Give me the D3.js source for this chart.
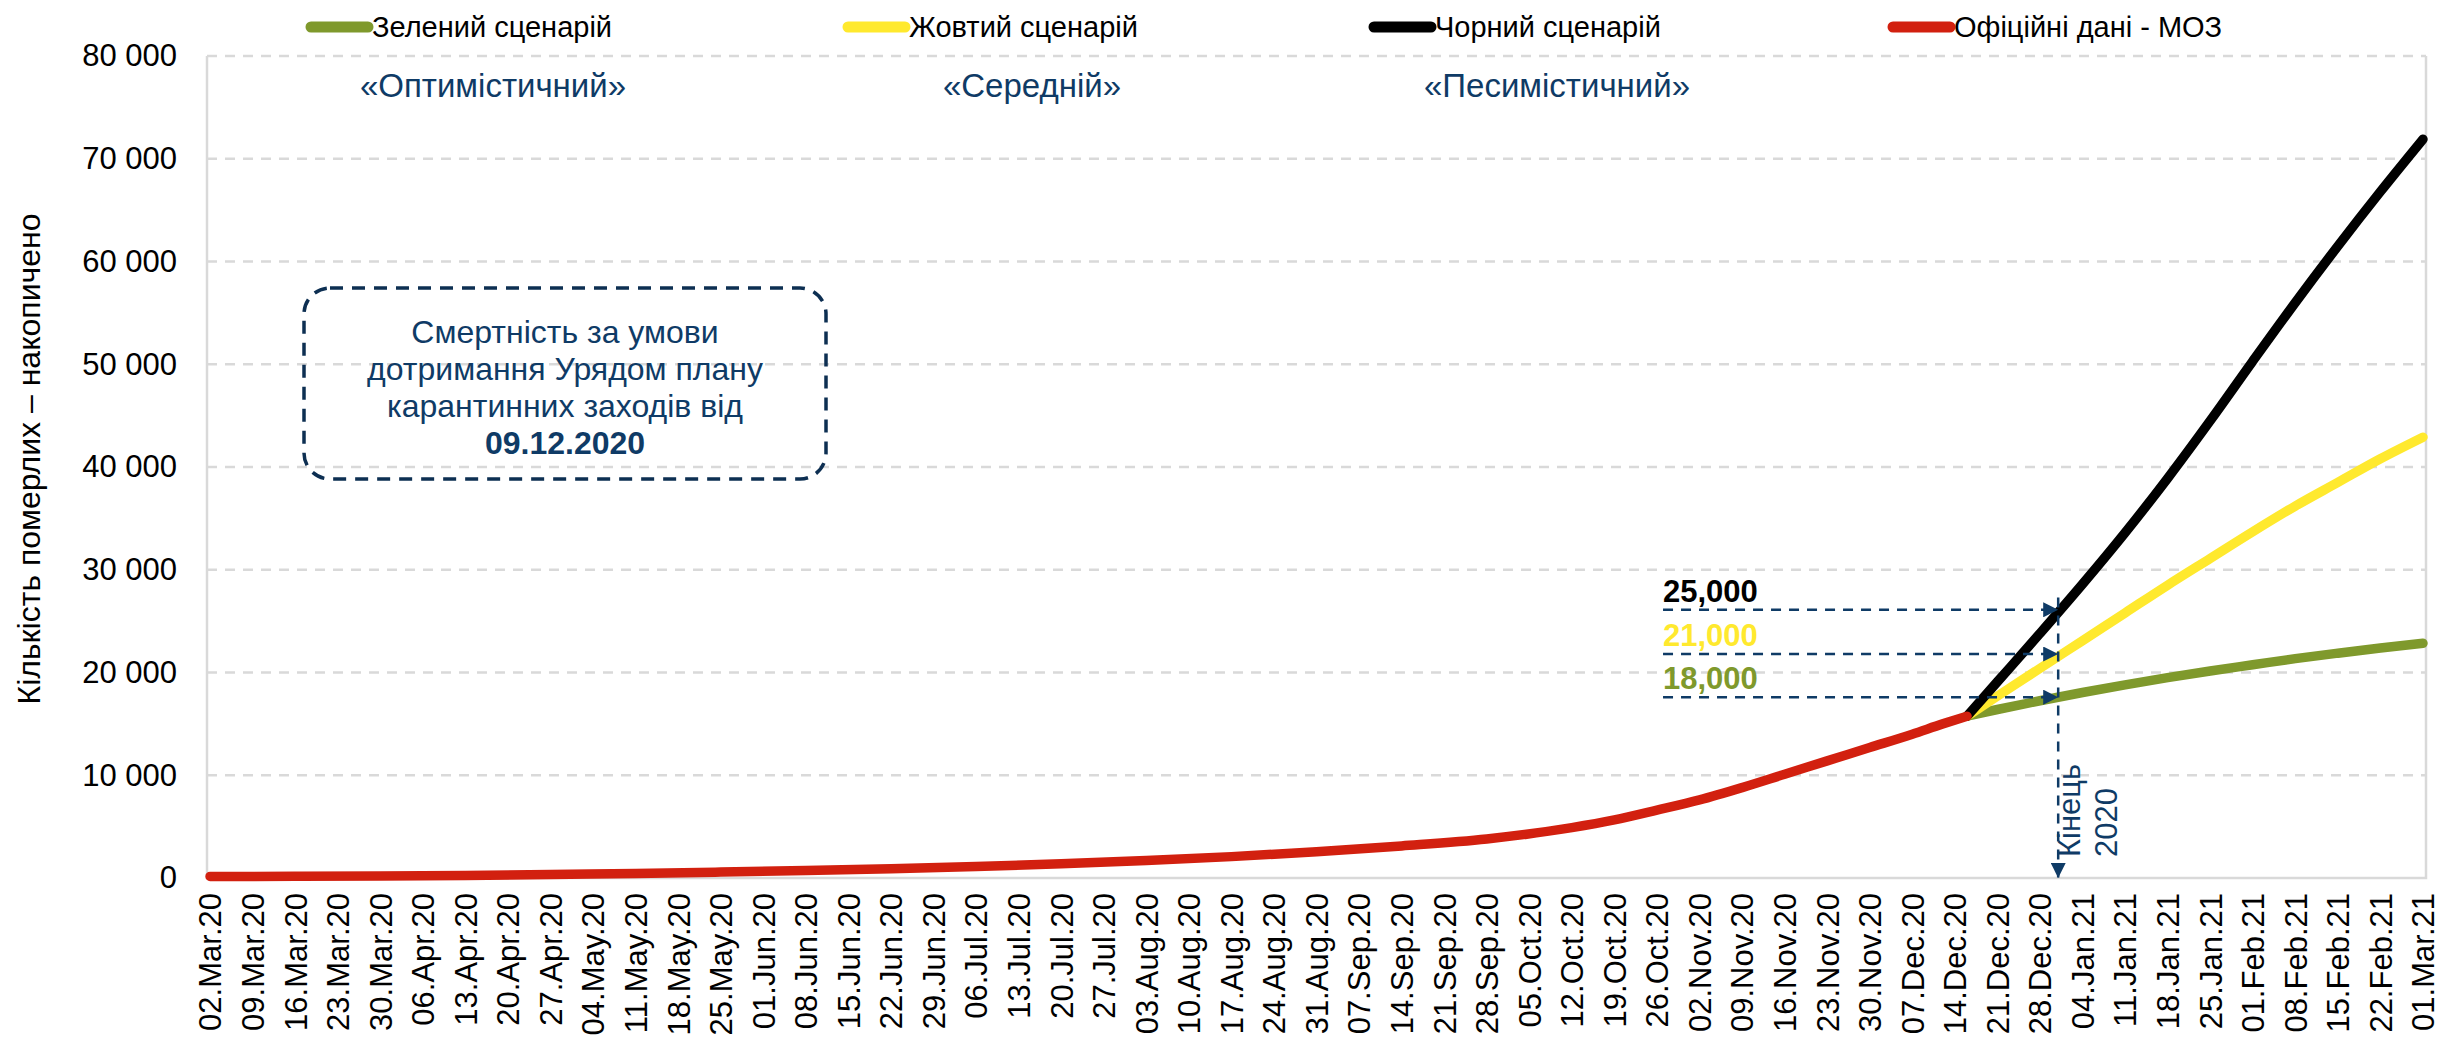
<!DOCTYPE html>
<html>
<head>
<meta charset="utf-8">
<script src="https://cdn.jsdelivr.net/npm/d3@7"></script>
<style>
  body { margin: 0; background: #fff; }
  svg { display: block; }
  text { font-family: "Liberation Sans", Arial, sans-serif; }
</style>
</head>
<body>
<div id="chart"></div>
<script>
// Official data (MOZ), cumulative deaths
const officialDates = ["2020-03-02","2020-03-16","2020-03-30","2020-04-13","2020-04-27","2020-05-11","2020-05-25",
  "2020-06-08","2020-06-22","2020-07-06","2020-07-20","2020-08-03","2020-08-17","2020-08-31","2020-09-14",
  "2020-09-28","2020-10-12","2020-10-19","2020-10-26","2020-11-02","2020-11-09","2020-11-16",
  "2020-11-23","2020-11-30","2020-12-07","2020-12-12","2020-12-16"];
const officialValues = [150,160,190,250,340,450,580,720,900,1120,1380,1700,2080,2550,3120,
  3800,4900,5650,6600,7600,8800,10100,11400,12700,14000,15000,15750];

// Scenario forecasts
const scenarioDates = ["2020-12-16","2020-12-21","2020-12-28","2021-01-04","2021-01-11","2021-01-18",
  "2021-01-25","2021-02-01","2021-02-08","2021-02-15","2021-02-22","2021-03-01"];
const greenValues  = [15750,16400,17250,18050,18800,19500,20150,20750,21350,21880,22380,22850];
const yellowValues = [15750,17700,20400,23100,25800,28500,31100,33700,36200,38500,40800,42900];
const blackValues  = [15750,19100,23800,28600,33600,38900,44500,50300,56000,61500,66800,71900];

const yTicks = [0,10000,20000,30000,40000,50000,60000,70000,80000];
const legendLabels = ["Зелений сценарій","Жовтий сценарій","Чорний сценарій","Офіційні дані - МОЗ"];
const legendColors = ["#7f992c","#ffe92e","#000000","#d2200f"];
const scenarioNames = ["«Оптимістичний»","«Середній»","«Песимістичний»"];

// end of 2020 annotation
const endOf2020 = "2020-12-31";
const endLabels = ["25,000","21,000","18,000"];
const endArrowValues = [26100,21800,17600];
const endLabelColors = ["#000000","#ffe92e","#7f992c"];

const W = 2440, H = 1045;
const plot = {left: 207, right: 2426, top: 56, bottom: 878};
const navy = "#0f3b66";

const parse = d3.timeParse("%Y-%m-%d");

const svg = d3.select("#chart").append("svg")
    .attr("width", W)
    .attr("height", H);

const x = d3.scaleTime()
    .domain([new Date(2020, 2, 1, 12), new Date(2021, 2, 1, 12)])
    .range([plot.left, plot.right]);

const y = d3.scaleLinear()
    .domain([0, 80000])
    .range([plot.bottom, plot.top]);

const fmtY = d3.formatLocale({decimal: ".", thousands: " ", grouping: [3], currency: ["", ""]}).format(",d");

// gridlines
svg.append("g")
    .selectAll("line")
    .data(yTicks.filter(d => d > 0))
    .join("line")
    .attr("x1", plot.left)
    .attr("x2", plot.right)
    .attr("y1", d => y(d))
    .attr("y2", d => y(d))
    .attr("stroke", "#d9d9d9")
    .attr("stroke-width", 2.5)
    .attr("stroke-dasharray", "10,8");

// frame: left, bottom, right
svg.append("path")
    .attr("d", `M${plot.left},${plot.top}V${plot.bottom}H${plot.right}V${plot.top}`)
    .attr("fill", "none")
    .attr("stroke", "#d9d9d9")
    .attr("stroke-width", 2.5);

// y axis
const yAxis = svg.append("g")
    .attr("transform", `translate(${plot.left},0)`)
    .call(d3.axisLeft(y).tickValues(yTicks).tickFormat(fmtY).tickSize(0).tickPadding(30));
yAxis.select(".domain").remove();
yAxis.selectAll("text")
    .attr("font-size", 31)
    .attr("font-family", "Liberation Sans, Arial, sans-serif")
    .attr("fill", "#000");

svg.append("text")
    .attr("transform", `translate(40,459) rotate(-90)`)
    .attr("text-anchor", "middle")
    .attr("font-size", 32)
    .text("Кількість померлих – накопичено");

// x axis
const weeks = d3.timeMonday.range(new Date(2020, 2, 2), new Date(2021, 2, 2));
const xAxis = svg.append("g")
    .attr("transform", `translate(0,${plot.bottom})`)
    .call(d3.axisBottom(x).tickValues(weeks).tickFormat(d3.timeFormat("%d.%b.%y")).tickSize(0));
xAxis.select(".domain").remove();
xAxis.selectAll("text")
    .attr("font-size", 31)
    .attr("font-family", "Liberation Sans, Arial, sans-serif")
    .attr("fill", "#000")
    .attr("text-anchor", "end")
    .attr("dy", "0.35em")
    .attr("transform", "translate(0,15) rotate(-90)")
    .attr("x", 0)
    .attr("y", 0);

// scenario subtitles
const subX = [493, 1032, 1557];
svg.append("g")
    .selectAll("text")
    .data(scenarioNames)
    .join("text")
    .attr("x", (d, i) => subX[i])
    .attr("y", 97)
    .attr("text-anchor", "middle")
    .attr("font-size", 33)
    .attr("fill", navy)
    .text(d => d);

// dashed rounded box
svg.append("rect")
    .attr("x", 304).attr("y", 288)
    .attr("width", 522).attr("height", 191)
    .attr("rx", 26)
    .attr("fill", "none")
    .attr("stroke", "#0d2f52")
    .attr("stroke-width", 3.5)
    .attr("stroke-dasharray", "13,9");

const boxLines = ["Смертність за умови", "дотримання Урядом плану", "карантинних заходів від", "09.12.2020"];
svg.append("g")
    .selectAll("text")
    .data(boxLines)
    .join("text")
    .attr("x", 565)
    .attr("y", (d, i) => 343 + i * 37)
    .attr("text-anchor", "middle")
    .attr("font-size", 32)
    .attr("font-weight", (d, i) => i === 3 ? "bold" : "normal")
    .attr("fill", navy)
    .text(d => d);

// lines
const line = d3.line()
    .x(d => x(d[0]))
    .y(d => y(d[1]))
    .curve(d3.curveMonotoneX);

const sDates = scenarioDates.map(parse);
const series = [
  {values: greenValues, dates: sDates, color: legendColors[0]},
  {values: yellowValues, dates: sDates, color: legendColors[1]},
  {values: blackValues, dates: sDates, color: legendColors[2]},
  {values: officialValues, dates: officialDates.map(parse), color: legendColors[3]}
];

svg.append("g")
    .selectAll("path")
    .data(series)
    .join("path")
    .attr("d", s => line(s.dates.map((d, i) => [d, s.values[i]])))
    .attr("fill", "none")
    .attr("stroke", s => s.color)
    .attr("stroke-width", 9.5)
    .attr("stroke-linecap", "round")
    .attr("stroke-linejoin", "round");

// arrow marker
svg.append("defs").append("marker")
    .attr("id", "arrow")
    .attr("viewBox", "0 0 10 10")
    .attr("refX", 10).attr("refY", 5)
    .attr("markerWidth", 16).attr("markerHeight", 15)
    .attr("markerUnits", "userSpaceOnUse")
    .attr("orient", "auto")
    .append("path")
    .attr("d", "M0,0L10,5L0,10Z")
    .attr("fill", navy);

const xEnd = x(parse(endOf2020));
const xLab = x(parse("2020-10-27"));

svg.append("g")
    .selectAll("line")
    .data(endArrowValues)
    .join("line")
    .attr("x1", xLab)
    .attr("x2", xEnd)
    .attr("y1", d => y(d))
    .attr("y2", d => y(d))
    .attr("stroke", navy)
    .attr("stroke-width", 2.5)
    .attr("stroke-dasharray", "10,8")
    .attr("marker-end", "url(#arrow)");

svg.append("line")
    .attr("x1", xEnd).attr("x2", xEnd)
    .attr("y1", y(27300)).attr("y2", y(0))
    .attr("stroke", navy)
    .attr("stroke-width", 2.5)
    .attr("stroke-dasharray", "10,8")
    .attr("marker-end", "url(#arrow)");

svg.append("g")
    .selectAll("text")
    .data(endLabels)
    .join("text")
    .attr("x", xLab)
    .attr("y", (d, i) => y(endArrowValues[i]) - 8)
    .attr("font-size", 31)
    .attr("font-weight", "bold")
    .attr("fill", (d, i) => endLabelColors[i])
    .text(d => d);

const endText = svg.append("text")
    .attr("transform", `translate(${xEnd + 22},857) rotate(-90)`)
    .attr("font-size", 31)
    .attr("fill", navy);
endText.append("tspan").attr("x", 0).attr("dy", 0).text("Кінець");
endText.append("tspan").attr("x", 0).attr("dy", 37).text("2020");

// legend
const legendX = [311, 848, 1374, 1893];
const lg = svg.append("g")
    .selectAll("g")
    .data(legendLabels)
    .join("g")
    .attr("transform", (d, i) => `translate(${legendX[i]},27)`);
lg.append("line")
    .attr("x1", 0).attr("x2", 57)
    .attr("stroke", (d, i) => legendColors[i])
    .attr("stroke-width", 11)
    .attr("stroke-linecap", "round");
lg.append("text")
    .attr("x", 61)
    .attr("y", 10)
    .attr("font-size", 29)
    .attr("fill", "#000")
    .text(d => d);
</script>
</body>
</html>
